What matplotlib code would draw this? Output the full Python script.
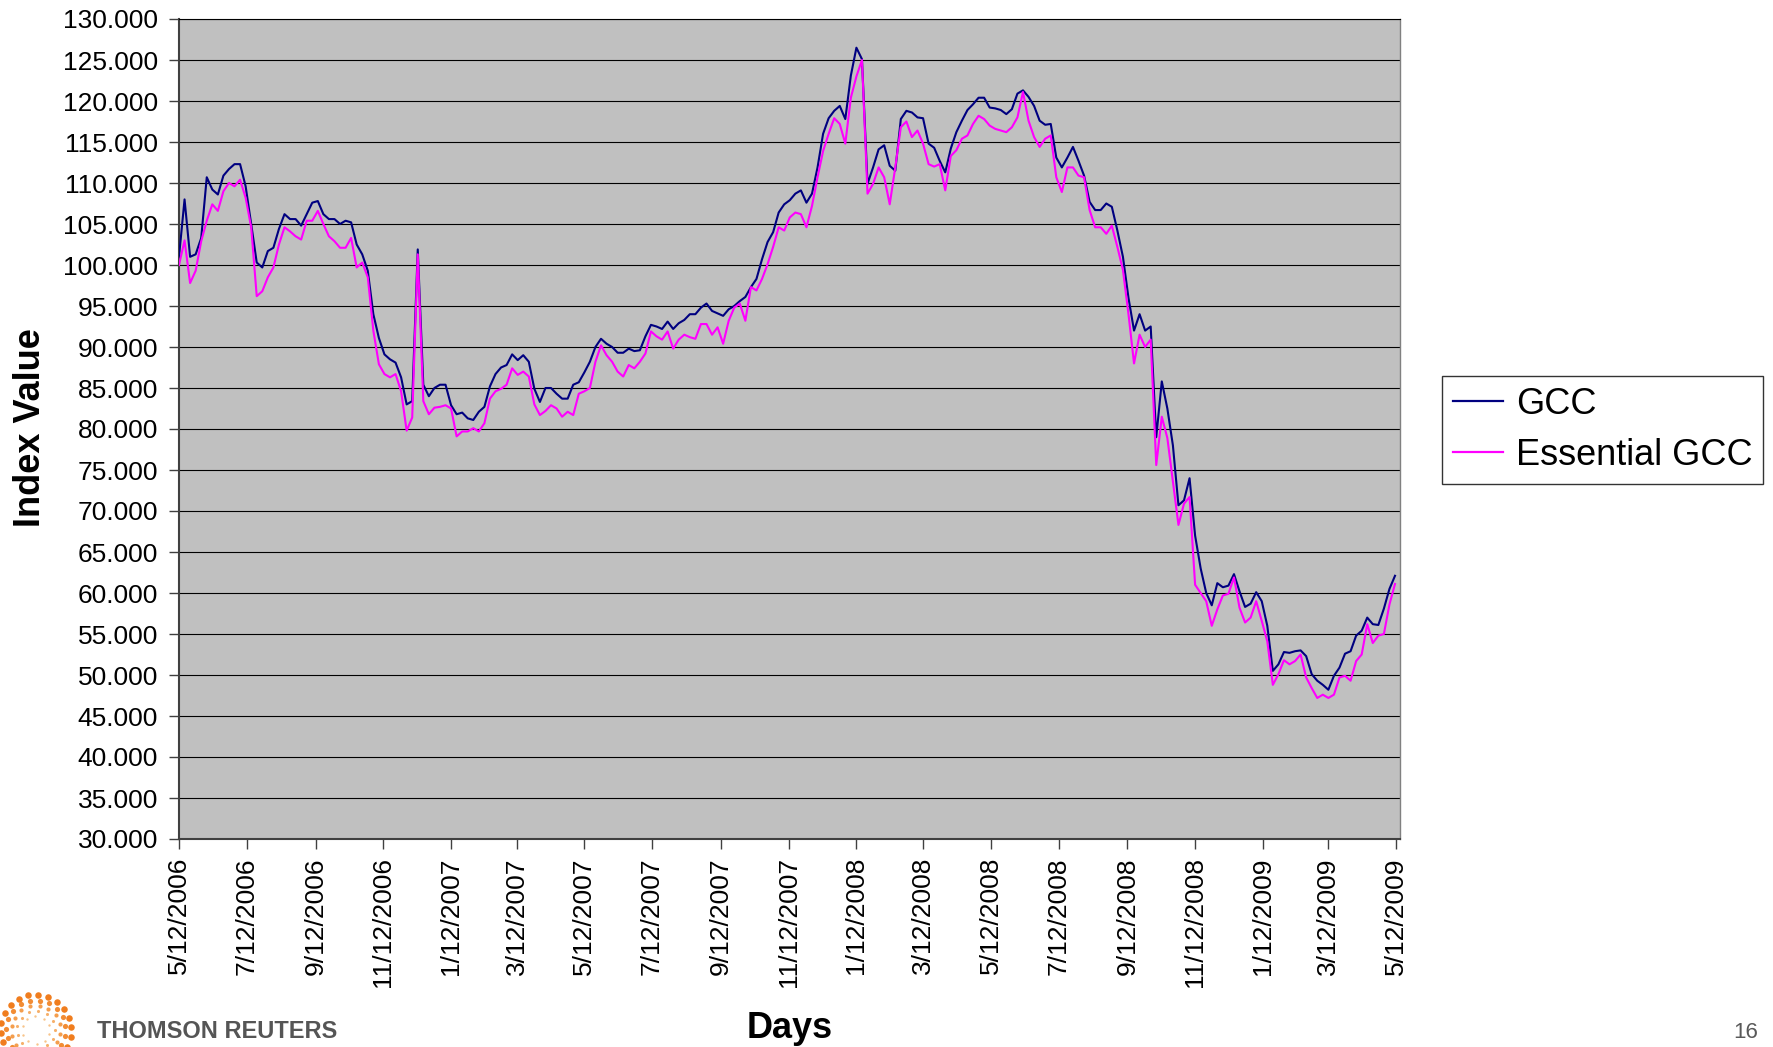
import numpy as np
import pandas as pd
import matplotlib
matplotlib.use('Agg')
import matplotlib.pyplot as plt

# values, one every 5 days from 5/12/2006
start_date = '2006-05-12'
step = '5D'

gcc = [
    101, 108, 101, 101.3, 103.3, 110.7, 109.2, 108.6, 110.9, 111.7,
    112.3, 112.3, 109.6, 105, 100.3, 99.7, 101.7, 102.1, 104.4, 106.2,
    105.6, 105.6, 104.8, 106.2, 107.6, 107.8, 106.2, 105.6, 105.6, 105,
    105.4, 105.2, 102.5, 101.3, 99.3, 94, 91.1, 89.1, 88.5, 88.1,
    86.3, 83, 83.4, 101.9, 85.4, 84, 85, 85.4, 85.4, 82.9,
    81.8, 82, 81.3, 81.1, 82.1, 82.7, 85.2, 86.7, 87.5, 87.8,
    89.1, 88.4, 89, 88.2, 84.9, 83.3, 85, 85, 84.3, 83.7,
    83.7, 85.4, 85.7, 86.9, 88.2, 90, 91, 90.4, 90, 89.3,
    89.3, 89.8, 89.5, 89.6, 91.3, 92.7, 92.5, 92.2, 93.1, 92.2,
    92.9, 93.3, 94, 94, 94.8, 95.3, 94.4, 94.1, 93.8, 94.6,
    95, 95.6, 96.1, 97.3, 98.3, 100.7, 102.8, 104, 106.4, 107.4,
    107.9, 108.7, 109.1, 107.6, 108.7, 111.9, 116, 117.9, 118.8, 119.4,
    117.8, 123.1, 126.5, 125.1, 109.9, 111.9, 114.1, 114.6, 112.1, 111.5,
    117.8, 118.8, 118.6, 118, 117.9, 114.8, 114.3, 112.7, 111.3, 114.2,
    116.2, 117.6, 118.9, 119.6, 120.4, 120.4, 119.2, 119.1, 118.9, 118.4,
    119, 120.9, 121.3, 120.5, 119.4, 117.6, 117.1, 117.2, 113.1, 111.9,
    113.1, 114.4, 112.7, 110.9, 107.7, 106.7, 106.7, 107.5, 107.1, 104.2,
    101, 96, 92, 94, 92, 92.5, 79, 85.8, 82.5, 78,
    70.7, 71.3, 74, 67, 63, 60, 58.5, 61.2, 60.7, 60.9,
    62.3, 60.2, 58.3, 58.7, 60.1, 59, 56, 50.5, 51.3, 52.8,
    52.7, 52.9, 53, 52.3, 50.1, 49.3, 48.8, 48.2, 49.9, 50.9,
    52.6, 52.9, 54.8, 55.4, 57, 56.2, 56.1, 58.1, 60.5, 62.1,
]

essential_gcc = [
    100, 103, 97.8, 99.3, 102.9, 105.4, 107.4, 106.6, 109, 110,
    109.6, 110.4, 108.2, 104.6, 96.2, 96.8, 98.5, 99.7, 102.5, 104.6,
    104.1, 103.5, 103.1, 105.4, 105.4, 106.6, 105, 103.5, 102.9, 102.1,
    102.1, 103.3, 99.7, 100.3, 98.5, 92, 87.9, 86.7, 86.3, 86.7,
    84.6, 79.8, 81.4, 101.3, 83.4, 81.8, 82.6, 82.7, 82.9, 82.5,
    79.1, 79.7, 79.7, 80.1, 79.7, 80.7, 83.7, 84.6, 84.9, 85.4,
    87.4, 86.6, 87, 86.4, 83, 81.7, 82.2, 82.9, 82.5, 81.5,
    82.1, 81.7, 84.3, 84.6, 85, 88.2, 90.2, 89, 88.2, 87,
    86.4, 87.8, 87.4, 88.2, 89.2, 91.9, 91.3, 90.9, 91.9, 89.8,
    90.9, 91.5, 91.2, 91, 92.8, 92.8, 91.5, 92.4, 90.4, 93.2,
    94.8, 95.3, 93.2, 97.3, 96.9, 98.3, 100.1, 102.2, 104.6, 104.2,
    105.8, 106.4, 106.2, 104.6, 107.2, 110.7, 113.9, 116, 117.9, 117.2,
    114.8, 120.4, 123, 125, 108.7, 109.9, 111.9, 110.7, 107.4, 111.9,
    116.8, 117.5, 115.6, 116.4, 114.8, 112.3, 112, 112.3, 109.1, 113.3,
    114, 115.4, 115.8, 117.2, 118.2, 117.8, 117, 116.6, 116.4, 116.2,
    116.8, 118, 121.1, 117.6, 115.6, 114.4, 115.4, 115.8, 110.7, 108.9,
    111.9, 111.9, 110.9, 110.7, 106.7, 104.6, 104.6, 103.8, 104.8, 102.2,
    99.4, 94, 88, 91.5, 90, 90.9, 75.6, 81.5, 78.9, 73.6,
    68.3, 70.9, 71.7, 61, 60, 59, 56, 58, 59.7, 59.9,
    61.9, 58.2, 56.4, 57, 59, 56.6, 54.1, 48.8, 50.1, 51.8,
    51.3, 51.7, 52.5, 49.7, 48.4, 47.2, 47.6, 47.2, 47.6, 49.7,
    49.9, 49.3, 51.7, 52.5, 56.2, 53.9, 54.8, 55, 58.6, 61.1,
]

tick_start = '2006-05-12'
tick_end = '2009-05-12'
y_ticks = list(range(30, 131, 5))

plt.rcParams['font.family'] = ['Liberation Sans', 'DejaVu Sans']

dates = pd.date_range(start_date, periods=len(gcc), freq=step)
tick_dates = pd.date_range(tick_start, tick_end, freq=pd.DateOffset(months=2))
tick_labels = [f"{d.month}/{d.day}/{d.year}" for d in tick_dates]

W, H = 1774, 1047
fig = plt.figure(figsize=(W / 100, H / 100), dpi=100)
ax = fig.add_axes([179 / W, 1 - 839 / H, (1400 - 179) / W, (839 - 19) / H])
ax.set_facecolor('#C0C0C0')

for v in y_ticks:
    ax.axhline(v, color='black', lw=0.8, zorder=1)

ax.plot(dates, gcc, color='#000080', lw=1.5, label='GCC', zorder=3)
ax.plot(dates, essential_gcc, color='#FF00FF', lw=1.5, label='Essential GCC', zorder=4)

ax.set_ylim(30, 130)
ax.set_xlim(pd.Timestamp(tick_start), pd.Timestamp(tick_start) + pd.Timedelta(days=1099.5))
ax.set_yticks(y_ticks)
ax.set_yticklabels([f"{v:.3f}" for v in y_ticks])
ax.set_xticks(tick_dates)
ax.set_xticklabels(tick_labels, rotation=90, va='top', ha='center')

ax.tick_params(axis='both', labelsize=19, length=7, width=1, color='#404040', direction='out')
ax.tick_params(axis='y', pad=8)
ax.tick_params(axis='x', pad=6)

for side in ['left', 'bottom']:
    ax.spines[side].set_color('#404040')
    ax.spines[side].set_linewidth(1.5)
ax.spines['right'].set_color('#808080')
ax.spines['right'].set_linewidth(1)
ax.spines['top'].set_color('black')
ax.spines['top'].set_linewidth(0.8)

fig.text(31 / W, 1 - 428 / H, 'Index Value', rotation=90, fontsize=26,
         fontweight='bold', ha='center', va='center')
fig.text(790 / W, 1 - 1028 / H, 'Days', fontsize=26, fontweight='bold',
         ha='center', va='center')

leg = ax.legend(loc='upper left', bbox_to_anchor=(1442 / W, 1 - 376 / H),
                bbox_transform=fig.transFigure, fontsize=26, frameon=True,
                fancybox=False, borderpad=0.3, labelspacing=0.45,
                handlelength=1.4, handletextpad=0.35, borderaxespad=0)
leg.get_frame().set_edgecolor('black')
leg.get_frame().set_linewidth(1)
for line in leg.get_lines():
    line.set_linewidth(1.6)

# Thomson Reuters logo in the bottom-left corner
logo = fig.add_axes([-40 / W, 1 - 1106 / H, 152 / W, 152 / H])
logo.set_xlim(-2, 2)
logo.set_ylim(-2, 2)
logo.axis('off')
rings = [0.36, 0.5, 0.64, 0.78, 0.93]
counts = [10, 13, 16, 19, 22]
sizes = [3, 5, 9, 14, 22]
shades = ['#F8C48A', '#F6B06A', '#F49E4E', '#F28C34', '#F07D1E']
for r, n, s, c in zip(rings, counts, sizes, shades):
    ang = np.linspace(0, 2 * np.pi, n, endpoint=False) + r
    logo.scatter(r * np.cos(ang), r * np.sin(ang), s=s, color=c, lw=0)

fig.text(97 / W, 1 - 1031 / H, 'THOMSON REUTERS', fontsize=17, fontweight='bold',
         color='#555555', ha='left', va='center')
fig.text(1758 / W, 1 - 1032 / H, '16', fontsize=16, color='#595959',
         ha='right', va='center')

fig.savefig('out.png', dpi=100)
